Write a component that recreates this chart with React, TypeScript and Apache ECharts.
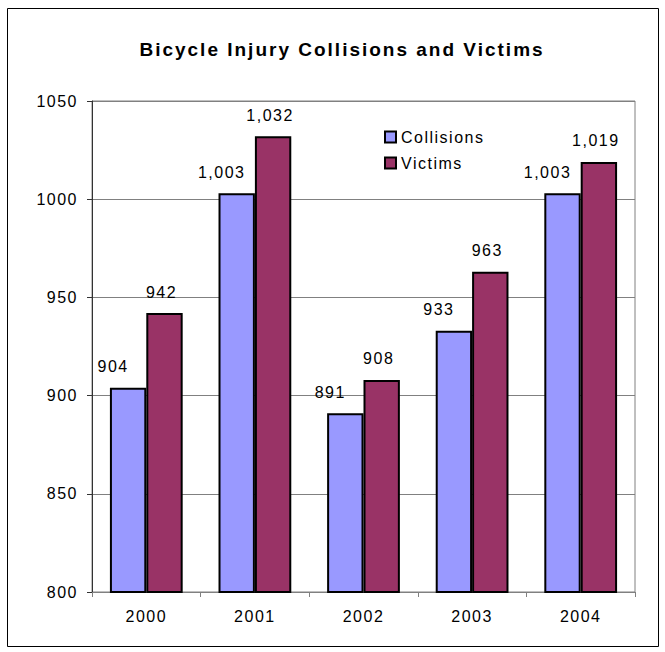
import React, { useEffect, useRef } from "react";
import * as echarts from "echarts";

const categories = ["2000", "2001", "2002", "2003", "2004"];
const collisions = [904, 1003, 891, 933, 1003];
const victims = [942, 1032, 908, 963, 1019];
const yTicks = { min: 800, max: 1050, interval: 50 };

const FONT = "'Liberation Sans', Arial, sans-serif";

export default function App() {
  const ref = useRef<HTMLDivElement>(null);
  useEffect(() => {
    if (!ref.current) return;
    const chart = echarts.init(ref.current, undefined, { renderer: "svg" });
    const fmt = (p: any) => Number(p.value).toLocaleString("en-US");
    chart.setOption({
      animation: false,
      backgroundColor: "#fff",
      textStyle: { fontFamily: FONT },
      title: {
        text: "Bicycle Injury Collisions and Victims",
        left: 337,
        textAlign: "center",
        top: 35,
        textStyle: { fontFamily: FONT, fontSize: 19, fontWeight: "bold", color: "#000" },
      },
      legend: {
        orient: "vertical",
        left: 379,
        top: 124,
        itemWidth: 11,
        itemHeight: 11,
        itemGap: 10,
        icon: "rect",
        textStyle: { fontFamily: FONT, fontSize: 16, color: "#000" },
        data: ["Collisions", "Victims"],
      },
      graphic: [
        {
          type: "rect",
          shape: { x: 7.5, y: 8.5, width: 651, height: 638 },
          style: { fill: "none", stroke: "#000", lineWidth: 1 },
          silent: true,
        },
      ],
      grid: {
        left: 92,
        top: 101,
        right: 30,
        bottom: 60,
        show: true,
        borderColor: "#808080",
        borderWidth: 1,
        backgroundColor: "transparent",
      },
      xAxis: {
        type: "category",
        data: categories,
        axisLine: { lineStyle: { color: "#808080", width: 1 } },
        axisTick: { show: true, length: 5, lineStyle: { color: "#808080" } },
        axisLabel: { fontFamily: FONT, fontSize: 16, color: "#000", margin: 16 },
      },
      yAxis: {
        type: "value",
        min: yTicks.min,
        max: yTicks.max,
        interval: yTicks.interval,
        axisLine: { show: true, lineStyle: { color: "#333", width: 1 } },
        axisTick: { show: true, length: 5, lineStyle: { color: "#333" } },
        splitLine: { show: true, lineStyle: { color: "#808080", width: 1 } },
        axisLabel: {
          fontFamily: FONT,
          fontSize: 16,
          color: "#000",
          margin: 14,
          formatter: (v: number) => String(v),
        },
      },
      series: [
        {
          name: "Collisions",
          type: "bar",
          data: collisions,
          barGap: "0%",
          barCategoryGap: "33%",
          itemStyle: { color: "#9999FF", borderColor: "#000", borderWidth: 2 },
          label: {
            show: true,
            position: "top",
            distance: 13,
            offset: [-15, 0],
            fontFamily: FONT,
            fontSize: 16,
            color: "#000",
            formatter: fmt,
          },
        },
        {
          name: "Victims",
          type: "bar",
          data: victims,
          itemStyle: { color: "#993366", borderColor: "#000", borderWidth: 2 },
          label: {
            show: true,
            position: "top",
            distance: 13,
            offset: [-3, 0],
            fontFamily: FONT,
            fontSize: 16,
            color: "#000",
            formatter: fmt,
          },
        },
      ],
    });
    return () => chart.dispose();
  }, []);
  return (
    <>
      <style>{`
        .chart-host svg text { letter-spacing: 1.5px; }
        .chart-host svg text[style*="bold"],
        .chart-host svg text[font-weight="bold"] { letter-spacing: 2px; }
      `}</style>
      <div
        ref={ref}
        className="chart-host"
        style={{ position: "absolute", left: 0, top: 0, width: 665, height: 652 }}
      />
    </>
  );
}
